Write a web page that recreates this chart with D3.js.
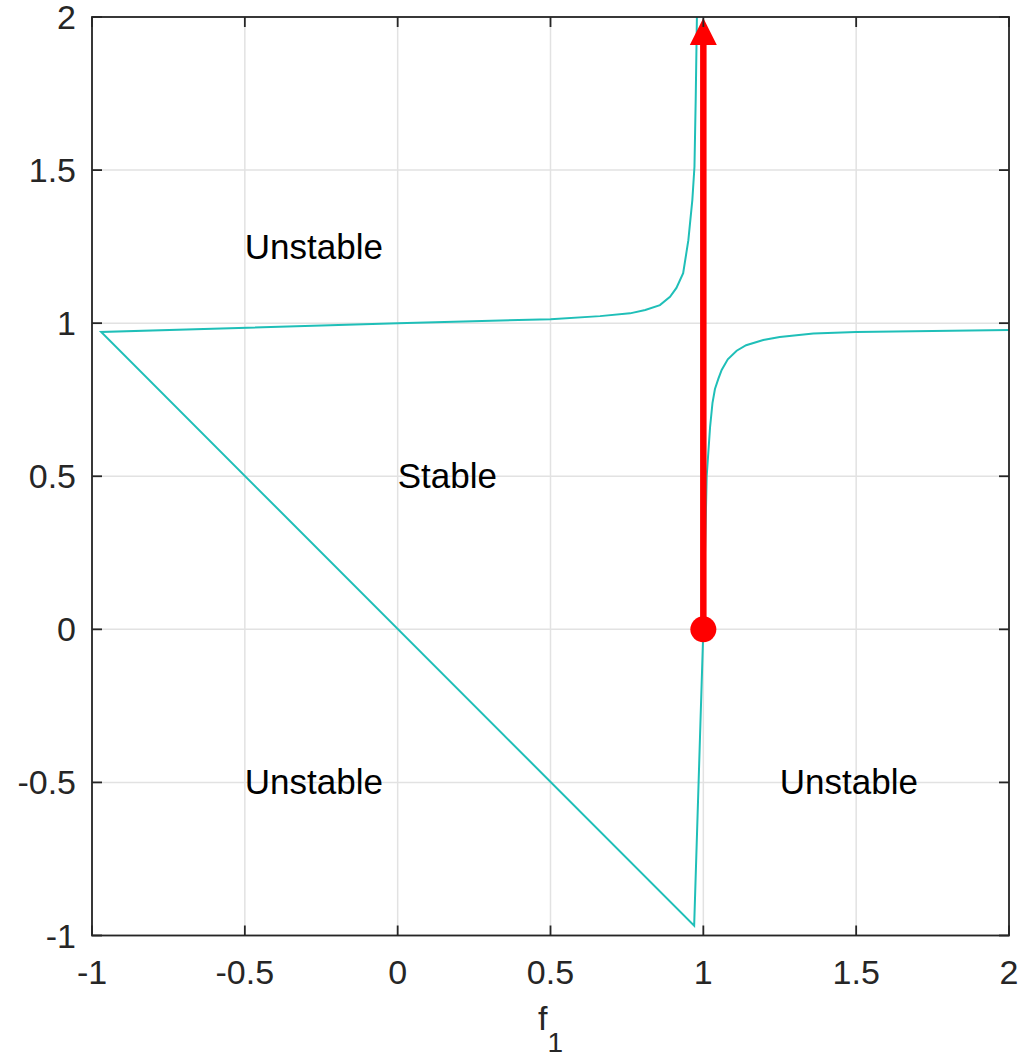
<!DOCTYPE html>
<html>
<head>
<meta charset="utf-8">
<script src="https://cdn.jsdelivr.net/npm/d3@7"></script>
<style>
  body { margin: 0; background: #fff; }
  text { font-family: "Liberation Sans", Arial, sans-serif; }
</style>
</head>
<body>
<div class="canvas"></div>
<script>
// stability boundary (f1, f2)
const boundaryX = [0.979, 0.975, 0.971, 0.964, 0.951, 0.934, 0.912, 0.891, 0.858, 0.81, 0.76, 0.662, 0.5, 0,
  -0.97, 0.97, 1.0, 1.011, 1.022, 1.03, 1.038, 1.049, 1.06, 1.08, 1.109, 1.14, 1.196, 1.25, 1.36, 1.5, 2.0];
const boundaryY = [2.0, 1.729, 1.511, 1.402, 1.271, 1.163, 1.115, 1.086, 1.059, 1.043, 1.032, 1.023, 1.013, 1.0,
  0.971, -0.968, 0.0, 0.5, 0.66, 0.74, 0.785, 0.818, 0.847, 0.882, 0.91, 0.928, 0.945, 0.955, 0.966, 0.971, 0.978];

// red arrow: start point and end point
const arrowX = [1, 1];
const arrowY = [0, 2];

// region labels
const labelText = ["Unstable", "Stable", "Unstable", "Unstable"];
const labelX = [-0.5, 0, -0.5, 1.25];
const labelY = [1.25, 0.5, -0.5, -0.5];

const xTicks = [-1, -0.5, 0, 0.5, 1, 1.5, 2];
const yTicks = [-1, -0.5, 0, 0.5, 1, 1.5, 2];

const dims = { width: 1019, height: 1060 };
const plot = { left: 92, right: 1009, top: 17, bottom: 935.5 };
const axisColor = "#262626";
const fontSize = 34;
const tickLen = 10;

const svg = d3.select(".canvas")
  .append("svg")
  .attr("width", dims.width)
  .attr("height", dims.height);

const x = d3.scaleLinear().domain([-1, 2]).range([plot.left, plot.right]);
const y = d3.scaleLinear().domain([-1, 2]).range([plot.bottom, plot.top]);

svg.append("defs").append("clipPath").attr("id", "clip")
  .append("rect")
  .attr("x", plot.left).attr("y", plot.top)
  .attr("width", plot.right - plot.left).attr("height", plot.bottom - plot.top);

// grid
const grid = svg.append("g");
grid.selectAll(".gx").data(xTicks).enter().append("line")
  .attr("x1", d => x(d)).attr("x2", d => x(d))
  .attr("y1", plot.top).attr("y2", plot.bottom)
  .attr("stroke", "#e2e2e2").attr("stroke-width", 1.5);
grid.selectAll(".gy").data(yTicks).enter().append("line")
  .attr("y1", d => y(d)).attr("y2", d => y(d))
  .attr("x1", plot.left).attr("x2", plot.right)
  .attr("stroke", "#e2e2e2").attr("stroke-width", 1.5);

// boundary curve
const pts = boundaryX.map((d, i) => [d, boundaryY[i]]);
const line = d3.line().x(d => x(d[0])).y(d => y(d[1]));
svg.append("path")
  .attr("clip-path", "url(#clip)")
  .attr("d", line(pts))
  .attr("fill", "none")
  .attr("stroke", "#1fbfb8")
  .attr("stroke-width", 2);

// region labels
svg.selectAll(".lab").data(labelText).enter().append("text")
  .attr("x", (d, i) => x(labelX[i]))
  .attr("y", (d, i) => y(labelY[i]) + 12)
  .attr("font-size", 35)
  .attr("fill", "#000")
  .text(d => d);

// arrow
const headH = 27, headW = 27;
const x0 = x(arrowX[0]), y0 = y(arrowY[0]);
const x1 = x(arrowX[1]), y1 = y(arrowY[1]) + 1;
svg.append("line")
  .attr("x1", x0).attr("y1", y0)
  .attr("x2", x1).attr("y2", y1 + headH - 2)
  .attr("stroke", "#ff0000").attr("stroke-width", 6.5);
svg.append("path")
  .attr("d", `M${x1},${y1} L${x1 - headW / 2},${y1 + headH} L${x1 + headW / 2},${y1 + headH} Z`)
  .attr("fill", "#ff0000");
svg.append("circle")
  .attr("cx", x0).attr("cy", y0).attr("r", 13)
  .attr("fill", "#ff0000");

// axes box and inward ticks
const axes = svg.append("g").attr("stroke", axisColor).attr("stroke-width", 1.8);
axes.append("rect")
  .attr("x", plot.left).attr("y", plot.top)
  .attr("width", plot.right - plot.left).attr("height", plot.bottom - plot.top)
  .attr("fill", "none");
xTicks.forEach(t => {
  axes.append("line").attr("x1", x(t)).attr("x2", x(t)).attr("y1", plot.bottom).attr("y2", plot.bottom - tickLen);
  axes.append("line").attr("x1", x(t)).attr("x2", x(t)).attr("y1", plot.top).attr("y2", plot.top + tickLen);
});
yTicks.forEach(t => {
  axes.append("line").attr("y1", y(t)).attr("y2", y(t)).attr("x1", plot.left).attr("x2", plot.left + tickLen);
  axes.append("line").attr("y1", y(t)).attr("y2", y(t)).attr("x1", plot.right).attr("x2", plot.right - tickLen);
});

// tick labels
const fmt = d => (d < 0 ? "-" : "") + Math.abs(d);
svg.selectAll(".xt").data(xTicks).enter().append("text")
  .attr("x", d => x(d))
  .attr("y", plot.bottom + 48)
  .attr("text-anchor", "middle")
  .attr("font-size", fontSize)
  .attr("fill", axisColor)
  .text(fmt);
svg.selectAll(".yt").data(yTicks).enter().append("text")
  .attr("x", plot.left - 16)
  .attr("y", d => y(d) + 12)
  .attr("text-anchor", "end")
  .attr("font-size", fontSize)
  .attr("fill", axisColor)
  .text(fmt);

// x label f_1
const xl = svg.append("text")
  .attr("x", (plot.left + plot.right) / 2)
  .attr("y", 1030)
  .attr("text-anchor", "middle")
  .attr("font-size", fontSize)
  .attr("fill", axisColor);
xl.append("tspan").text("f");
xl.append("tspan").attr("dy", 22).attr("font-size", 28).text("1");
</script>
</body>
</html>
